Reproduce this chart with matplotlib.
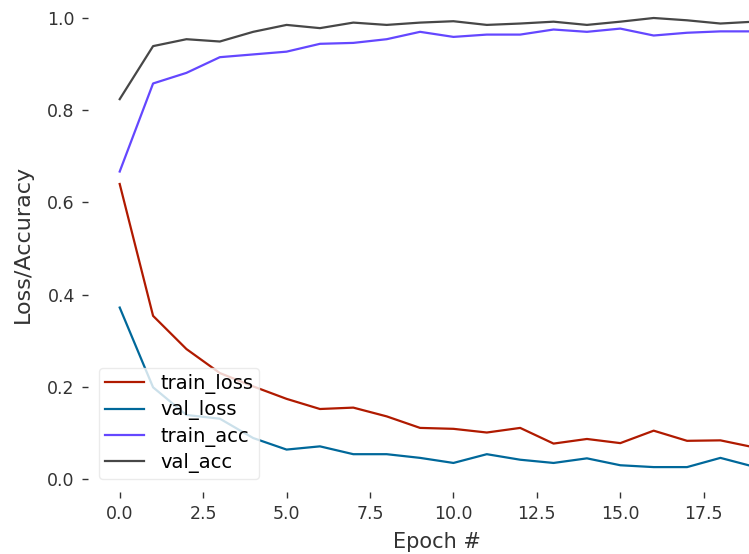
import numpy as np
import matplotlib
matplotlib.use("Agg")
import matplotlib.pyplot as plt

# ── DATA ──────────────────────────────────────────────────────────────────────
epochs = np.arange(0, 20)

train_loss = [0.640, 0.354, 0.282, 0.230, 0.201, 0.174, 0.152, 0.155, 0.136, 0.111,
              0.109, 0.101, 0.111, 0.077, 0.087, 0.078, 0.105, 0.083, 0.084, 0.069]
val_loss = [0.372, 0.199, 0.139, 0.131, 0.089, 0.064, 0.071, 0.054, 0.054, 0.046,
            0.035, 0.054, 0.042, 0.035, 0.045, 0.030, 0.026, 0.026, 0.046, 0.027]
train_acc = [0.667, 0.858, 0.881, 0.915, 0.921, 0.927, 0.944, 0.946, 0.954, 0.970,
             0.959, 0.964, 0.964, 0.975, 0.970, 0.977, 0.962, 0.968, 0.971, 0.971]
val_acc = [0.824, 0.939, 0.954, 0.949, 0.970, 0.985, 0.978, 0.990, 0.985, 0.990,
           0.993, 0.985, 0.988, 0.992, 0.985, 0.992, 1.000, 0.995, 0.988, 0.992]

series = [
    ("train_loss", train_loss, "#b01a00"),
    ("val_loss", val_loss, "#00689a"),
    ("train_acc", train_acc, "#6447ff"),
    ("val_acc", val_acc, "#474747"),
]

# ── PLOT ──────────────────────────────────────────────────────────────────────
W, H = 749, 554
fig = plt.figure(figsize=(W / 100, H / 100), dpi=100)
fig.patch.set_facecolor("white")

# axes run past the right/top edge: the reference is a cropped screenshot
left_px, bottom_px, width_px, height_px = 88, 62, 697.5, 496.6
ax = fig.add_axes([left_px / W, bottom_px / H, width_px / W, height_px / H])
ax.set_facecolor("white")

for name, vals, col in series:
    ax.plot(epochs, vals, color=col, linewidth=1.6, label=name)

ax.set_xlim(-0.95, 19.95)
ax.set_ylim(-0.028, 1.049)
ax.set_xticks([0, 2.5, 5, 7.5, 10, 12.5, 15, 17.5])
ax.set_yticks([0.0, 0.2, 0.4, 0.6, 0.8, 1.0])

for s in ax.spines.values():
    s.set_visible(False)

ax.tick_params(axis="both", labelsize=12.5, colors="#333333", length=4.5, width=1, pad=5)
ax.set_xlabel("Epoch #", fontsize=15, color="#333333", labelpad=6)
ax.set_ylabel("Loss/Accuracy", fontsize=16, color="#333333", labelpad=10.5)

leg = ax.legend(loc="lower left", bbox_to_anchor=(0.0162, 0.0262), borderaxespad=0,
                fontsize=14, framealpha=0.8, edgecolor="#e6e6e6", fancybox=True,
                borderpad=0.3, labelspacing=0.33, handletextpad=0.85)

fig.savefig("out.png", dpi=100)
